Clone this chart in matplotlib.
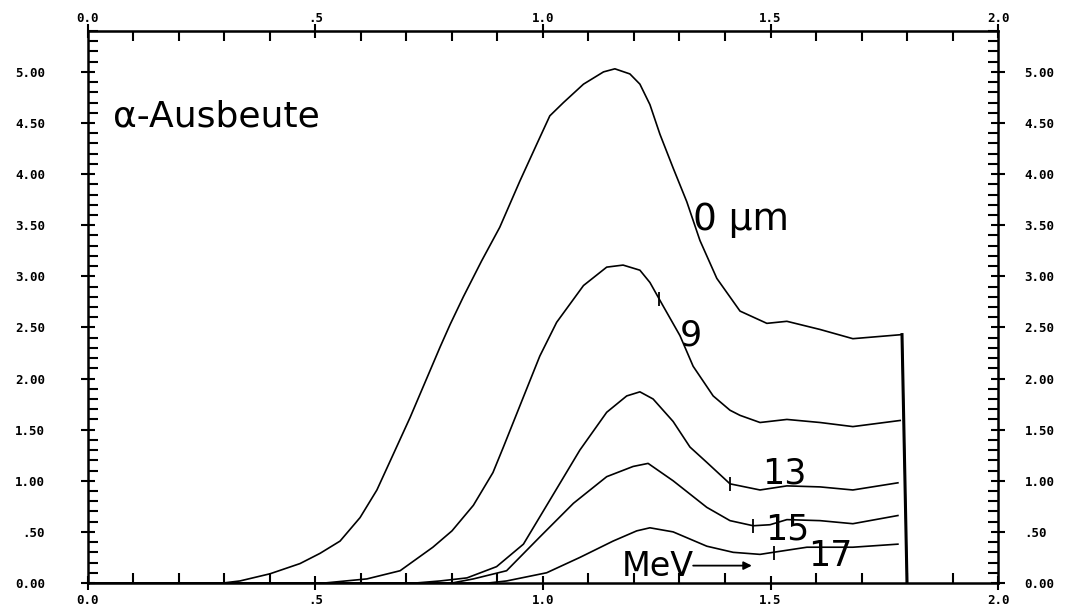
import matplotlib
matplotlib.use("Agg")
import matplotlib.pyplot as plt
from matplotlib.ticker import MultipleLocator, FixedLocator, FuncFormatter

plt.rcParams["font.family"] = "DejaVu Sans"

# energy (MeV) / yield values
x_0um = [0.0, 0.297, 0.334, 0.40, 0.466, 0.51, 0.554, 0.598, 0.635, 0.67, 0.708, 0.752,
         0.774, 0.796, 0.825, 0.865, 0.905, 0.949, 0.986, 1.015, 1.045, 1.089, 1.133,
         1.158, 1.191, 1.213, 1.235, 1.257, 1.286, 1.316, 1.345, 1.382, 1.433, 1.492,
         1.536, 1.609, 1.681, 1.789, 1.80]
y_0um = [0.0, 0.0, 0.02, 0.09, 0.19, 0.29, 0.41, 0.64, 0.91, 1.25, 1.62, 2.08,
         2.31, 2.53, 2.80, 3.15, 3.48, 3.93, 4.29, 4.57, 4.70, 4.88, 5.00,
         5.03, 4.98, 4.88, 4.68, 4.39, 4.06, 3.73, 3.35, 2.98, 2.66, 2.54,
         2.56, 2.48, 2.39, 2.43, 0.0]

x_9um = [0.0, 0.52, 0.613, 0.686, 0.758, 0.80, 0.847, 0.89, 0.913, 0.957, 0.993, 1.03,
         1.089, 1.14, 1.176, 1.213, 1.235, 1.264, 1.301, 1.33, 1.374, 1.411, 1.433,
         1.477, 1.536, 1.609, 1.681, 1.785]
y_9um = [0.0, 0.0, 0.04, 0.12, 0.35, 0.51, 0.76, 1.08, 1.33, 1.82, 2.22, 2.55,
         2.91, 3.09, 3.11, 3.06, 2.94, 2.71, 2.42, 2.12, 1.83, 1.69, 1.64,
         1.57, 1.60, 1.57, 1.53, 1.59]

x_13um = [0.0, 0.72, 0.774, 0.833, 0.898, 0.957, 1.015, 1.081, 1.14, 1.184, 1.213, 1.242,
          1.286, 1.323, 1.36, 1.411, 1.477, 1.536, 1.609, 1.681, 1.78]
y_13um = [0.0, 0.0, 0.02, 0.05, 0.16, 0.38, 0.81, 1.30, 1.67, 1.83, 1.87, 1.80,
          1.58, 1.33, 1.18, 0.97, 0.91, 0.95, 0.94, 0.91, 0.98]

x_15um = [0.0, 0.80, 0.847, 0.92, 0.993, 1.067, 1.14, 1.198, 1.231, 1.286, 1.36,
          1.411, 1.462, 1.499, 1.536, 1.609, 1.681, 1.78]
y_15um = [0.0, 0.0, 0.04, 0.12, 0.45, 0.78, 1.04, 1.14, 1.17, 1.00, 0.74,
          0.61, 0.56, 0.57, 0.62, 0.61, 0.58, 0.66]

x_17um = [0.0, 0.88, 0.92, 1.008, 1.081, 1.154, 1.206, 1.235, 1.286, 1.36, 1.418,
          1.477, 1.506, 1.58, 1.681, 1.78]
y_17um = [0.0, 0.0, 0.02, 0.10, 0.25, 0.41, 0.51, 0.54, 0.50, 0.36, 0.30,
          0.28, 0.30, 0.35, 0.35, 0.38]

# little marks on the curves next to the labels
mark_x = [1.255, 1.411, 1.462, 1.508]
mark_y = [2.78, 0.97, 0.56, 0.29]

x_ticks = [0.0, 0.5, 1.0, 1.5, 2.0]
y_ticks = [0.0, 0.5, 1.0, 1.5, 2.0, 2.5, 3.0, 3.5, 4.0, 4.5, 5.0]

curves = [(x_0um, y_0um), (x_9um, y_9um), (x_13um, y_13um), (x_15um, y_15um), (x_17um, y_17um)]


def fmt(v, nd):
    s = f"{v:.{nd}f}"
    if 0 < v < 1:
        s = s[1:]
    return s


xfmt = FuncFormatter(lambda v, p: fmt(v, 1))
yfmt = FuncFormatter(lambda v, p: fmt(v, 2))
tick_font = dict(family="DejaVu Sans Mono", weight="bold", size=9)

fig = plt.figure(figsize=(10.65, 6.09), dpi=100)
ax = fig.add_axes([0.0826, 0.0427, 0.8545, 0.9064])

for xs, ys in curves:
    ax.plot(xs, ys, color="black", linewidth=1.2, solid_joinstyle="round")
ax.plot(x_0um[-2:], y_0um[-2:], color="black", linewidth=2.2)
ax.plot(mark_x, mark_y, linestyle="none", marker="|", markersize=10, color="black", mew=1.3)

ax.set_xlim(0, 2.0)
ax.set_ylim(0, 5.4)

ax.xaxis.set_major_locator(FixedLocator(x_ticks))
ax.xaxis.set_minor_locator(MultipleLocator(0.1))
ax.yaxis.set_major_locator(FixedLocator(y_ticks))
ax.yaxis.set_minor_locator(MultipleLocator(0.1))
ax.xaxis.set_major_formatter(xfmt)
ax.yaxis.set_major_formatter(yfmt)

for s in ax.spines.values():
    s.set_linewidth(1.8)

ax.tick_params(which="both", top=True, bottom=True, left=True, right=True, width=1.5)
ax.tick_params(which="major", direction="inout", length=10)
ax.tick_params(which="minor", direction="in", length=7)
ax.tick_params(axis="x", which="major", pad=3)
ax.tick_params(axis="y", which="major", pad=26)
for lab in ax.get_xticklabels() + ax.get_yticklabels():
    lab.set(**tick_font)

# labels on the top and right side
secx = ax.secondary_xaxis("top")
secx.xaxis.set_major_locator(FixedLocator(x_ticks))
secx.xaxis.set_major_formatter(xfmt)
secx.tick_params(length=0, pad=4)
secy = ax.secondary_yaxis("right")
secy.yaxis.set_major_locator(FixedLocator(y_ticks))
secy.yaxis.set_major_formatter(yfmt)
secy.tick_params(length=0, pad=19)
for lab in secx.get_xticklabels() + secy.get_yticklabels():
    lab.set(**tick_font)

ax.text(0.055, 4.47, "α-Ausbeute", fontsize=26, va="baseline")
ax.text(1.33, 3.45, "0 µm", fontsize=27, va="baseline")
ax.text(1.301, 2.32, "9", fontsize=25, va="baseline")
ax.text(1.481, 0.975, "13", fontsize=25, va="baseline")
ax.text(1.488, 0.43, "15", fontsize=25, va="baseline")
ax.text(1.582, 0.17, "17", fontsize=25, va="baseline")
ax.text(1.174, 0.07, "MeV", fontsize=24, va="baseline")
ax.annotate("", xy=(1.459, 0.17), xytext=(1.33, 0.17),
            arrowprops=dict(arrowstyle="-|>", color="black", lw=1.3, mutation_scale=12,
                            shrinkA=0, shrinkB=0))

fig.savefig("out.png", dpi=100)
